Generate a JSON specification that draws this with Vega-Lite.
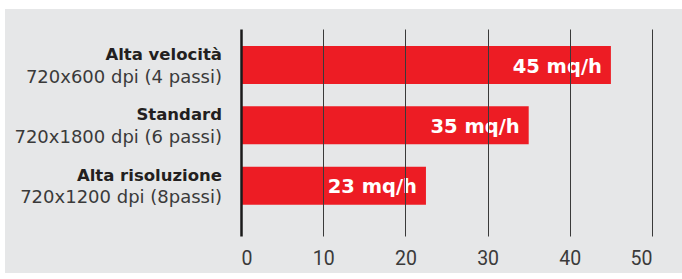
{
  "$schema": "https://vega.github.io/schema/vega-lite/v6.json",
  "width": 677,
  "height": 264,
  "autosize": {"type": "none"},
  "padding": {"left": 5, "top": 9, "right": 0, "bottom": 0},
  "background": "#ffffff",
  "config": {
    "view": {"fill": "#e6e7e8", "stroke": null},
    "font": "DejaVu Sans"
  },
  "data": {
    "values": [
      {"mode": "Alta velocità", "spec": "720x600 dpi (4 passi)", "value": 45, "label": "45 mq/h"},
      {"mode": "Standard", "spec": "720x1800 dpi (6 passi)", "value": 35, "label": "35 mq/h"},
      {"mode": "Alta risoluzione", "spec": "720x1200 dpi (8passi)", "value": 22.5, "label": "23 mq/h"}
    ]
  },
  "encoding": {
    "y": {
      "field": "mode",
      "type": "nominal",
      "sort": null,
      "scale": {"range": [37, 244], "paddingInner": 0.37, "paddingOuter": 0.4, "align": 0},
      "axis": null
    }
  },
  "layer": [
    {
      "mark": {"type": "bar", "color": "#ed1c24"},
      "encoding": {
        "x": {
          "field": "value",
          "type": "quantitative",
          "scale": {"domain": [0, 50], "range": [236, 647], "nice": false},
          "axis": {
            "values": [0, 10, 20, 30, 40, 50],
            "title": null,
            "domain": false,
            "ticks": false,
            "offset": -24,
            "labelPadding": 0,
            "labelFontSize": 19.5,
            "labelColor": "#3a3a3a",
            "labelFont": "Roboto",
            "grid": true,
            "gridColor": {"condition": {"test": "datum.value === 0", "value": "#1a1a1a"}, "value": "#3a3a3a"},
            "gridWidth": {"condition": {"test": "datum.value === 0", "value": 2.5}, "value": 1},
            "gridOpacity": 1,
            "zindex": 1
          }
        }
      }
    },
    {
      "mark": {"type": "text", "align": "right", "baseline": "alphabetic", "dx": -9, "dy": 7.5, "color": "#ffffff", "fontSize": 19.5, "fontWeight": "bold"},
      "encoding": {
        "x": {"field": "value", "type": "quantitative"},
        "text": {"field": "label"}
      }
    },
    {
      "mark": {"type": "text", "align": "right", "baseline": "alphabetic", "dx": -19, "dy": -5, "color": "#231f20", "fontSize": 16.5, "fontWeight": "bold"},
      "encoding": {
        "x": {"datum": 0},
        "text": {"field": "mode"}
      }
    },
    {
      "mark": {"type": "text", "align": "right", "baseline": "alphabetic", "dx": -19, "dy": 17.5, "color": "#3a3a3a", "fontSize": 18},
      "encoding": {
        "x": {"datum": 0},
        "text": {"field": "spec"}
      }
    }
  ]
}
